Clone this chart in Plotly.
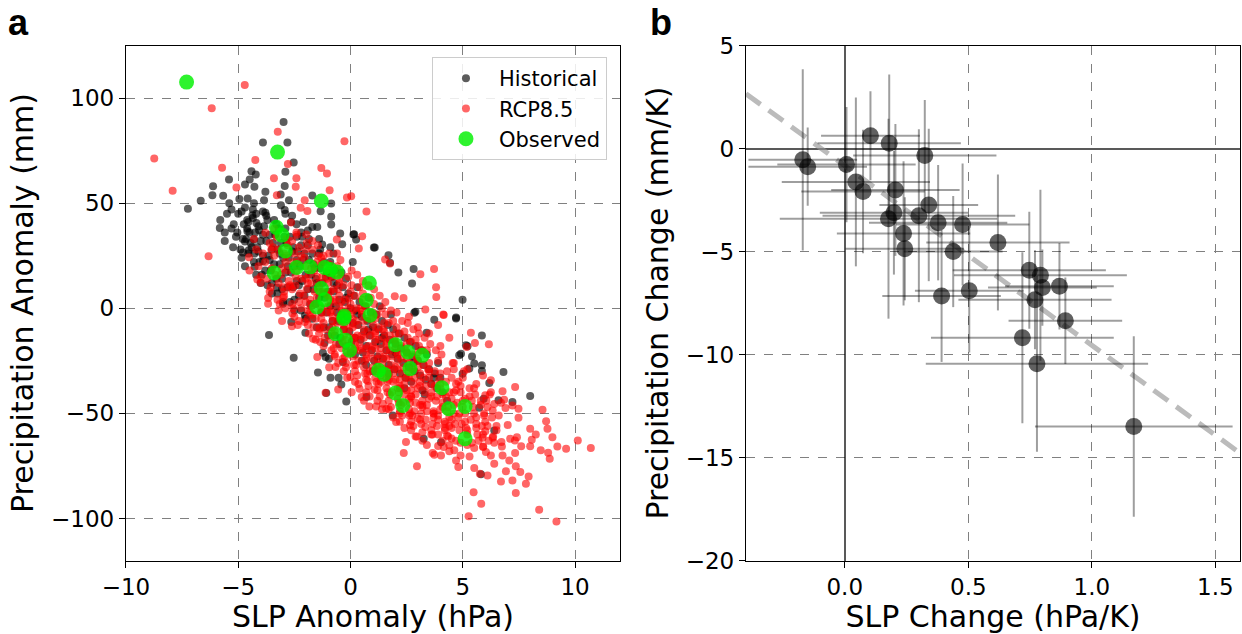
import plotly.graph_objects as go

# ---------------- Panel a data ----------------
hist_edge = [
    (-2.98, 88.6), (-3.9, 78.9), (-2.81, 78.9), (-2.53, 69.4), (-4.41, 65.2), (-4.22, 63.6), (-2.9, 64.9),
    (-5.41, 61.3), (-4.49, 61.3), (-4.7, 58.9), (-4.28, 57.8), (-6.12, 58.1), (-6.15, 53.8), (-5.67, 53.5),
    (-6.67, 51.1), (-7.24, 47.3), (-2.93, 58.2), (-3.79, 55.4), (-4.58, 52.2), (-3.85, 51.4), (-3.11, 54.1),
    (-2.74, 51.4), (-1.7, 53.7), (-0.86, 49.8), (-1.33, 46.2), (-0.86, 43.5), (-2.93, 46.7), (-3.79, 45.4),
    (-4.37, 44.3), (-4.55, 41.1), (-4.19, 40.6), (-5.82, 38.2), (-5.04, 36.0), (-4.59, 36.7), (-4.07, 37.1),
    (-4.7, 31.8), (-4.3, 32.7), (-5.23, 29.0), (-4.79, 26.5), (-4.28, 26.0), (-3.9, 22.4), (-4.27, 19.7),
    (-3.28, 9.9), (-2.16, 34.0), (-1.7, 38.7), (-1.48, 38.7), (-0.86, 39.8), (-0.46, 35.6), (0.16, 35.2),
    (0.25, 32.7), (1.08, 28.9), (-0.76, 26.0), (-0.37, 30.5), (-1.26, 30.3), (-4.53, 27.6),
    (0.13, 35.1), (1.04, 28.9), (1.69, 25.2), (1.76, 21.6), (2.13, 17.0), (2.81, 18.7), (2.74, 11.8),
    (4.99, 4.1), (4.7, -4.4), (2.89, -1.7),
    (-3.63, -12.7), (-2.53, -23.5), (-1.45, -30.6), (-0.89, -33.0), (-0.53, -33.0), (-0.41, -36.3),
    (-0.19, -44.3), (-2.64, -6.5), (-2.03, -3.5), (-2.01, -11.7), (-1.23, -21.1), (-0.96, -24.0),
    (-1.16, -16.5), (-0.34, -25.5), (0.71, -42.2), (-3.01, 2.2), (-1.08, -40.3), (-1.11, -23.2),
    (4.7, -4.9), (5.85, -12.9), (5.41, -22.9), (5.51, -26.3), (5.85, -27.1), (5.85, -29.8), (6.81, -30.3),
    (8.0, -41.7), (7.21, -44.6), (6.59, -43.8), (6.4, -58.1), (5.81, -79.0), (4.03, -63.7), (3.26, -62.1),
    (1.88, -51.0), (2.84, -2.1), (3.73, -5.4), (4.92, -21.6), (5.93, -43.0), (3.39, -11.7), (5.14, -17.6),
    (5.21, -18.1), (6.18, -35.6), (5.73, -47.3), (5.29, -28.7), (4.99, -31.1), (4.84, -22.4),
]
hist_core = [
    (-5.2, 40), (-4.8, 33), (-5.0, 45), (-4.9, 28),
    (-4.5, 36), (-4.4, 29), (-4.6, 42), (-4.3, 22), (-4.7, 48),
    (-4.0, 32), (-3.9, 25), (-4.1, 39), (-3.8, 18), (-4.2, 45), (-4.0, 12),
    (-3.5, 28), (-3.4, 21), (-3.6, 35), (-3.3, 14), (-3.7, 42), (-3.5, 7),
    (-3.0, 24), (-2.9, 17), (-3.1, 31), (-2.8, 10), (-3.2, 38), (-3.0, 3), (-2.9, 45),
    (-2.5, 20), (-2.4, 13), (-2.6, 27), (-2.3, 6), (-2.7, 34), (-2.5, -1), (-2.4, 40),
    (-2.0, 16), (-1.9, 9), (-2.1, 23), (-1.8, 2), (-2.2, 30), (-2.0, -5), (-1.9, 37),
    (-1.5, 12), (-1.4, 5), (-1.6, 19), (-1.3, -2), (-1.7, 26), (-1.5, -9), (-1.4, 33),
    (-1.0, 8), (-0.9, 1), (-1.1, 15), (-0.8, -6), (-1.2, 22), (-1.0, -13), (-0.9, 29),
    (-0.5, 4), (-0.4, -3), (-0.6, 11), (-0.3, -10), (-0.7, 18), (-0.5, -17),
    (0.0, 0), (0.1, -7), (-0.1, 7), (0.2, -14), (-0.2, 14), (0.0, -21), (0.1, 22),
    (0.5, -4), (0.6, -11), (0.4, 3), (0.7, -18), (0.3, 10), (0.5, -25),
    (1.0, -9), (1.1, -16), (0.9, -2), (1.2, -23), (0.8, 5), (1.0, -30),
    (1.5, -13), (1.6, -20), (1.4, -6), (1.7, -27), (1.3, 1),
    (2.0, -17), (2.1, -24), (1.9, -10), (2.2, -31), (1.8, -3),
    (2.5, -21), (2.6, -28), (2.4, -14), (2.7, -35),
    (3.0, -25), (3.1, -32), (2.9, -18), (3.2, -39),
    (3.5, -29), (3.6, -36), (3.4, -22),
    (4.0, -33), (4.1, -40), (3.9, -26),
    (-5.5, 45), (-5.3, 38), (-5.6, 32), (-5.4, 50),
    (-4.75, 40), (-4.65, 33), (-4.85, 46), (-4.55, 26), (-4.7, 20),
    (-4.25, 36), (-4.15, 29), (-4.35, 43), (-4.05, 22), (-4.3, 50), (-4.2, 16),
    (-3.75, 32), (-3.65, 25), (-3.85, 39), (-3.55, 18), (-3.9, 46), (-3.7, 11),
    (-3.25, 28), (-3.15, 21), (-3.35, 35), (-3.05, 14), (-3.4, 42), (-3.25, 7), (-3.1, 49),
    (-2.75, 24), (-2.65, 17), (-2.85, 31), (-2.55, 10), (-2.9, 38), (-2.7, 3), (-2.6, 44),
    (-2.25, 20), (-2.15, 13), (-2.35, 27), (-2.05, 6), (-2.4, 34), (-2.2, -1), (-2.1, 41),
    (-1.75, 16), (-1.65, 9), (-1.85, 23), (-1.55, 2), (-1.9, 30), (-1.7, -5),
    (-1.25, 12), (-1.15, 5), (-1.35, 19), (-1.05, -2), (-1.4, 26), (-1.2, -9),
    (-0.75, 8), (-0.65, 1), (-0.85, 15), (-0.55, -6), (-0.9, 22), (-0.7, -13),
    (-0.25, 3), (-0.15, -4), (-0.35, 10), (-0.05, -11), (-0.4, 17), (-0.2, -18),
    (0.25, -1), (0.35, -8), (0.15, 6), (0.45, -15), (0.2, -22),
    (0.75, -6), (0.85, -13), (0.65, 1), (0.95, -20), (0.7, -27),
    (1.25, -10), (1.35, -17), (1.15, -3), (1.45, -24),
    (1.75, -15), (1.85, -22), (1.65, -8), (1.95, -29),
    (2.25, -19), (2.35, -26), (2.15, -12), (2.45, -33),
    (2.75, -23), (2.85, -30), (2.65, -16),
    (3.25, -27), (3.35, -34), (3.15, -20),
    (3.75, -31), (3.85, -38),
    (-5.8, 42), (-5.6, 36), (-5.3, 47), (-5.1, 34), (-4.95, 52), (-4.6, 38), (-4.45, 31), (-4.85, 24),
    (-4.1, 27), (-4.35, 47), (-3.9, 35), (-3.75, 44), (-3.6, 23), (-3.95, 16), (-3.45, 31), (-3.3, 40),
    (-3.15, 26), (-3.5, 12), (-2.95, 34), (-2.8, 20), (-2.65, 41), (-3.05, 9), (-2.55, 29), (-2.4, 23),
    (-2.2, 36), (-2.5, 4), (-2.05, 26), (-1.85, 33), (-1.65, 21), (-2.3, 11), (-1.55, 14), (-1.35, 28),
    (-1.2, 7), (-1.05, 17), (-0.95, -9), (-0.75, 12), (-0.6, -2), (-0.45, -14), (-0.2, 5), (0.05, -16),
    (0.3, -3), (0.55, -21), (0.8, -10), (1.05, -25), (1.4, -14), (1.7, -31), (2.0, -21), (2.4, -38),
    (2.8, -26), (3.3, -41), (3.7, -33), (4.3, -44),
]
rcp_edge = [
    (-4.71, 106.2), (-6.18, 95.1), (-8.74, 71.3), (-7.92, 55.9), (-6.32, 24.8), (-5.72, 66.8), (-5.08, 57.5),
    (-4.24, 70.5), (-3.24, 84.0), (-0.27, 79.5), (-3.41, 61.8), (-2.79, 68.6), (-2.41, 61.8), (-2.44, 57.8),
    (-1.3, 66.7), (-1.05, 64.1), (-0.93, 56.2), (-0.16, 52.7), (0.03, 53.3), (0.71, 46.0), (-3.28, 53.8),
    (-2.22, 47.8), (-1.92, 46.3), (-2.65, 40.8), (-2.41, 36.0), (-1.97, 35.1), (-0.61, 32.7), (0.52, 34.3),
    (0.37, 28.4), (-4.52, 24.3), (-4.15, 13.7), (-3.67, 4.9), (-4.0, 12.2), (-3.79, 35.9), (-3.53, 27.9),
    (-2.96, 5.7), (-2.68, 10.2), (-2.04, 51.4),
    (3.72, 18.7), (3.11, 16.2), (3.81, 10.0), (3.82, 5.4), (1.54, 23.2), (1.76, 21.3), (2.36, 4.9),
    (1.97, 5.7), (4.13, -3.0),
    (-2.59, -2.5), (-2.61, -8.6), (-2.04, -6.5), (-1.67, -14.5), (-1.48, -23.2), (-1.11, -40.2),
    (-0.55, -38.6), (-0.67, -27.9), (-0.01, -32.7), (0.4, -38.3), (0.84, -46.7), (1.14, -46.7),
    (0.5, -42.2), (0.77, -34.6), (1.07, -38.7), (-1.38, -9.7), (-3.67, 2.2),
    (10.7, -66.5), (10.12, -62.9), (9.6, -66.8), (9.17, -101.4), (8.4, -95.9), (8.87, -71.6), (8.8, -68.7),
    (9.21, -65.7), (8.99, -61.3), (8.47, -67.6), (8.77, -57.3), (8.71, -53.7), (8.55, -48.3), (8.0, -57.3),
    (8.25, -60.0), (8.07, -62.5), (8.0, -65.6), (7.81, -83.5), (7.93, -80.0), (7.56, -77.9), (7.21, -81.9),
    (6.92, -77.5), (7.36, -75.1), (7.07, -72.4), (7.33, -68.9), (7.6, -65.6), (7.32, -62.9), (7.41, -61.3),
    (6.74, -65.7), (6.7, -82.4), (7.36, -87.9), (5.82, -93.0), (5.26, -98.9), (6.1, -79.5), (5.76, -78.7),
    (5.51, -76.0), (6.77, -70.0), (6.25, -70.0), (6.03, -68.4), (5.91, -65.7), (5.51, -66.5), (6.33, -61.6),
    (6.72, -63.6), (7.11, -62.1), (7.48, -52.1), (7.21, -46.2), (7.33, -37.5), (6.77, -39.5), (6.25, -34.3),
    (6.16, -17.1), (5.54, -16.5), (5.36, -11.6), (5.17, -18.4), (6.33, -48.6), (4.7, -72.4), (4.03, -70.0),
    (3.66, -68.9), (2.96, -75.2), (2.37, -68.9), (2.47, -63.6), (2.95, -61.0), (2.65, -55.7), (4.4, -65.2),
    (4.62, -67.6), (5.88, -61.6), (5.48, -87.5), (4.15, -3.2), (3.33, -0.6),
    (1.59, -47.8), (2.03, -54.1), (3.33, -56.5), (3.73, -69.7), (2.62, -51.0), (2.18, -50.2), (1.44, -45.4),
    (3.0, -52.4), (3.6, -60.0), (4.3, -60.5), (4.9, -64.0), (5.2, -58.0), (5.6, -55.0), (6.0, -58.5),
    (5.3, -70.5), (4.5, -57.0), (3.9, -65.5), (4.8, -75.5), (6.4, -74.0), (6.5, -56.0), (7.0, -55.5),
    (5.95, -51.0), (6.9, -47.5), (6.84, -43.5), (7.48, -47.8), (6.0, -41.4), (5.6, -36.0), (5.9, -32.0),
    (5.2, -29.0), (4.6, -26.0), (4.4, -14.0), (3.9, -8.0), (3.5, -12.0), (4.0, -18.0), (3.0, -9.0),
    (2.6, -4.0), (6.4, -45.5), (5.8, -46.0), (5.3, -42.0), (4.9, -37.0), (4.5, -33.0),
]
rcp_core = [
    (-4.2, 28), (-3.8, 22), (-4.5, 18), (-3.6, 31), (-4.0, 15),
    (-3.4, 25), (-3.2, 12), (-3.6, 8), (-3.3, 34), (-3.5, 19),
    (-2.9, 22), (-3.1, 16), (-2.8, 30), (-3.0, 5), (-2.7, 11), (-3.2, -1),
    (-2.5, 26), (-2.4, 18), (-2.6, 9), (-2.3, 3), (-2.5, -4), (-2.2, 14), (-2.6, 32),
    (-2.0, 20), (-1.9, 12), (-2.1, 6), (-1.8, -2), (-2.0, 28), (-1.9, -8), (-2.2, 0),
    (-1.5, 15), (-1.4, 8), (-1.6, 2), (-1.3, -5), (-1.5, 22), (-1.4, -12), (-1.7, 28), (-1.2, -18),
    (-1.0, 12), (-0.9, 4), (-1.1, -2), (-0.8, -9), (-1.0, 18), (-0.9, -15), (-1.2, 25), (-0.7, -22), (-1.1, 7),
    (-0.5, 6), (-0.4, -1), (-0.6, -7), (-0.3, -13), (-0.5, 12), (-0.4, -19), (-0.6, 20), (-0.2, -26), (-0.5, 1),
    (0.0, 2), (0.1, -5), (-0.1, -11), (0.2, -17), (0.0, 8), (0.1, -23), (-0.1, 15), (0.2, -30), (0.0, -3), (0.1, -14),
    (0.5, -3), (0.6, -10), (0.4, -16), (0.7, -22), (0.5, 4), (0.6, -28), (0.4, 10), (0.7, -34), (0.5, -19), (0.3, -8),
    (1.0, -8), (1.1, -15), (0.9, -21), (1.2, -27), (1.0, -2), (1.1, -33), (0.9, 5), (1.2, -39), (1.0, -24), (1.1, -12),
    (1.5, -14), (1.6, -20), (1.4, -26), (1.7, -32), (1.5, -7), (1.6, -38), (1.4, 0), (1.7, -44), (1.5, -29), (1.6, -17),
    (2.0, -19), (2.1, -25), (1.9, -31), (2.2, -37), (2.0, -12), (2.1, -43), (1.9, -6), (2.2, -49), (2.0, -34), (2.1, -22),
    (2.5, -24), (2.6, -30), (2.4, -36), (2.7, -42), (2.5, -17), (2.6, -48), (2.4, -11), (2.7, -54), (2.5, -39),
    (3.0, -28), (3.1, -35), (2.9, -41), (3.2, -47), (3.0, -21), (3.1, -53), (2.9, -15), (3.2, -59),
    (3.5, -33), (3.6, -40), (3.4, -46), (3.7, -52), (3.5, -26), (3.6, -58), (3.4, -20),
    (4.0, -38), (4.1, -45), (3.9, -51), (4.2, -57), (4.0, -31), (4.1, -63), (3.9, -25),
    (4.5, -43), (4.6, -50), (4.4, -56), (4.7, -36), (4.5, -62), (4.6, -29),
    (5.0, -47), (5.1, -54), (4.9, -40), (5.2, -60), (5.0, -33),
    (5.5, -50), (5.6, -57), (5.4, -44), (5.7, -63), (5.5, -38),
    (6.0, -54), (6.1, -47), (5.9, -60), (6.2, -41),
    (6.5, -58), (6.6, -51), (6.4, -64), (6.7, -45),
    (-1.75, 12), (-1.8, 4), (-1.7, -3), (-1.75, 19), (-1.65, -9),
    (-1.25, 8), (-1.3, 0), (-1.2, -7), (-1.25, 15), (-1.15, -14), (-1.3, 21),
    (-0.75, 3), (-0.8, -4), (-0.7, -11), (-0.75, 9), (-0.65, -17), (-0.8, 15), (-0.7, -23),
    (-0.25, -2), (-0.3, -8), (-0.2, -15), (-0.25, 4), (-0.15, -21), (-0.3, 11), (-0.2, -28),
    (0.25, -6), (0.3, -13), (0.2, -19), (0.25, 0), (0.35, -25), (0.2, 6), (0.3, -32),
    (0.75, -11), (0.8, -18), (0.7, -24), (0.75, -5), (0.85, -30), (0.7, 1), (0.8, -37),
    (1.25, -15), (1.3, -22), (1.2, -29), (1.25, -9), (1.35, -35), (1.2, -3), (1.3, -42),
    (1.75, -20), (1.8, -27), (1.7, -34), (1.75, -13), (1.85, -40), (1.7, -7), (1.8, -47),
    (2.25, -24), (2.3, -31), (2.2, -38), (2.25, -18), (2.35, -45), (2.2, -12), (2.3, -51),
    (2.75, -29), (2.8, -36), (2.7, -42), (2.75, -22), (2.85, -49), (2.7, -16), (2.8, -56),
    (3.25, -33), (3.3, -40), (3.2, -46), (3.25, -27), (3.35, -53), (3.2, -20),
    (3.75, -37), (3.8, -44), (3.7, -50), (3.75, -30), (3.85, -56),
    (4.25, -42), (4.3, -49), (4.2, -55), (4.25, -35), (4.35, -61),
    (4.75, -45), (4.8, -52), (4.7, -39), (4.85, -58),
    (-2.85, 25), (-3.05, 19), (-2.75, 13), (-2.95, 8), (-3.15, 2),
    (-2.35, 22), (-2.45, 15), (-2.25, 7), (-2.55, 0), (-2.3, 29),
    (-1.85, 16), (-1.95, 9), (-1.75, 1), (-2.05, 24), (-1.9, -5),
    (-1.4, 12), (-1.5, 5), (-1.3, -2), (-1.6, 18), (-1.35, -9), (-1.45, 25),
    (-0.9, 8), (-1.0, 1), (-0.8, -6), (-1.05, 14), (-0.85, -12), (-0.95, 21), (-0.75, -19),
    (-0.4, 3), (-0.5, -4), (-0.3, -10), (-0.55, 9), (-0.35, -16), (-0.45, 16), (-0.25, -23),
    (0.1, -1), (0.0, -8), (0.2, -14), (-0.05, 5), (0.15, -20), (0.05, 11), (0.25, -27),
    (0.6, -6), (0.5, -13), (0.7, -19), (0.45, 0), (0.65, -25), (0.55, 7), (0.75, -31),
    (1.1, -11), (1.0, -18), (1.2, -24), (0.95, -5), (1.15, -30), (1.05, 2), (1.25, -36),
    (1.6, -16), (1.5, -23), (1.7, -29), (1.45, -10), (1.65, -35), (1.55, -3), (1.75, -41),
    (2.1, -21), (2.0, -28), (2.2, -34), (1.95, -15), (2.15, -40), (2.05, -9), (2.25, -46),
    (2.6, -26), (2.5, -33), (2.7, -39), (2.45, -20), (2.65, -45), (2.55, -14), (2.75, -51),
    (3.1, -31), (3.0, -38), (3.2, -44), (2.95, -24), (3.15, -50), (3.05, -18),
    (3.6, -36), (3.5, -43), (3.7, -49), (3.45, -29), (3.65, -55),
    (4.1, -41), (4.0, -48), (4.2, -54), (3.95, -34),
    (4.6, -46), (4.5, -53), (4.4, -40),
    (5.1, -50), (5.0, -44),
    (-3.9, 26), (-4.1, 20), (-3.7, 14), (-4.3, 33),
    (-3.45, 29), (-3.35, 16), (-3.55, 10), (-3.25, 4), (-3.4, 38),
    (-2.85, 33), (-2.95, 26), (-2.9, 0), (-3.05, -6),
    (-2.4, 35), (-2.45, 11), (-2.35, -8), (-2.55, 22),
    (-1.95, 31), (-1.85, -12), (-2.0, 14), (-1.9, -1),
    (-1.45, 30), (-1.35, -16), (-1.4, 10), (-1.55, -5),
    (-0.95, 26), (-0.85, -20), (-0.9, -2), (-1.0, 6),
    (-0.45, 23), (-0.35, -24), (-0.4, -6), (-0.5, 14), (-0.3, -30),
    (0.05, 18), (0.15, -27), (0.1, -9), (0.0, -18), (0.2, -35), (0.05, -40),
    (0.55, 13), (0.65, -31), (0.6, -14), (0.5, -1), (0.7, -40),
    (1.05, 9), (1.15, -35), (1.1, -19), (1.0, -28), (1.2, -44), (1.1, -5),
    (1.55, 3), (1.65, -40), (1.6, -24), (1.5, -11), (1.7, -48), (1.6, -33),
    (2.05, -2), (2.15, -45), (2.1, -29), (2.0, -16), (2.2, -54), (2.1, -38),
    (2.55, -7), (2.65, -50), (2.6, -33), (2.5, -21), (2.7, -58), (2.6, -43),
    (3.05, -12), (3.15, -55), (3.1, -37), (3.0, -25), (3.2, -63), (3.1, -46),
    (3.55, -17), (3.65, -60), (3.6, -42), (3.5, -30), (3.7, -50),
    (4.05, -22), (4.15, -66), (4.1, -47), (4.0, -36), (4.2, -58),
    (4.55, -26), (4.65, -55), (4.6, -40), (4.7, -63),
    (5.05, -30), (5.15, -57), (5.1, -43), (5.2, -65),
    (5.55, -41), (5.65, -60), (5.6, -52),
    (6.05, -44), (6.15, -63), (6.1, -56),
    (-3.2, 28), (-2.8, 18), (-3.0, 10), (-2.6, 2),
    (-2.2, 25), (-2.0, 3), (-2.3, -6), (-1.7, 32),
    (-1.6, 8), (-1.3, 24), (-1.1, -10), (-1.55, -15),
    (-0.8, -1), (-0.6, 26), (-0.55, -26), (-0.7, 4), (-0.95, -28),
    (-0.15, -33), (-0.1, 0), (0.3, 16), (0.35, -36), (0.4, -20),
    (0.9, -13), (0.85, -42), (0.8, 11), (0.6, -44),
    (1.35, -19), (1.4, -48), (1.3, 6), (1.35, -32),
    (1.85, -23), (1.9, -52), (1.8, -1), (1.9, -35),
    (2.35, -28), (2.4, -57), (2.3, -6), (2.4, -41),
    (2.85, -33), (2.9, -61), (2.8, -10), (2.9, -45),
    (3.35, -37), (3.4, -65), (3.3, -14), (3.4, -49),
    (3.85, -42), (3.9, -60), (3.8, -20), (3.9, -53),
    (4.35, -47), (4.4, -68), (4.3, -30), (4.4, -52),
    (4.85, -50), (4.9, -70), (4.8, -35), (4.95, -55),
    (5.35, -53), (5.4, -64), (5.3, -38), (5.45, -47),
    (5.85, -56), (5.9, -66), (5.8, -44), (5.95, -50),
    (6.3, -52), (6.35, -61), (6.25, -40),
]
observed = [
    (-7.3, 107.6), (-3.25, 74.3), (-1.3, 51.0), (-3.3, 38.5), (-3.05, 34.8), (-2.9, 27.3), (-3.4, 16.8),
    (-2.4, 19.4), (-1.8, 19.7), (-1.15, 19.4), (-0.9, 18.5), (-0.6, 17.3), (-1.3, 9.4), (-1.15, 4.0),
    (-1.5, 0.6), (-0.28, -3.8), (0.84, 12.0), (0.7, 3.8), (0.87, -3.3), (-0.3, -4.9), (-0.67, -12.1),
    (-0.22, -15.2), (-0.04, -20.0), (2.0, -17.3), (2.55, -20.8), (3.2, -22.4), (2.65, -28.7), (1.25, -29.5),
    (1.5, -31.4), (2.0, -40.3), (4.07, -37.8), (4.37, -47.8), (5.1, -46.7), (5.1, -62.1), (2.33, -46.2),
]

# ---------------- Panel b data ----------------
slp_change = [-0.17, -0.15, 0.007, 0.045, 0.074, 0.104, 0.18, 0.205, 0.199, 0.177, 0.30, 0.34, 0.324, 0.378,
              0.477, 0.238, 0.243, 0.439, 0.62, 0.747, 0.792, 0.80, 0.869, 0.77, 0.504, 0.392, 0.893, 0.719,
              0.778, 1.17]
pr_change = [-0.55, -0.88, -0.78, -1.62, -2.09, 0.62, 0.26, -2.01, -3.12, -3.41, -3.26, -2.74, -0.34, -3.6,
             -3.69, -4.12, -4.87, -5.0, -4.56, -5.91, -6.15, -6.75, -6.69, -7.34, -6.9, -7.16, -8.36, -9.19,
             -10.45, -13.49]
slp_err = [0.22, 0.24, 0.28, 0.30, 0.25, 0.20, 0.29, 0.26, 0.30, 0.44, 0.39, 0.20, 0.29, 0.28,
           0.27, 0.27, 0.24, 0.20, 0.29, 0.31, 0.35, 0.22, 0.22, 0.31, 0.22, 0.24, 0.23, 0.37,
           0.45, 0.40]
pr_err = [4.4, 1.9, 2.8, 4.1, 3.0, 2.16, 3.33, 3.2, 3.0, 4.85, 4.2, 3.7, 2.7, 2.8,
          2.96, 3.5, 2.5, 2.7, 3.3, 2.84, 4.15, 1.85, 2.1, 2.4, 3.0, 3.2, 2.1, 4.15,
          4.27, 4.38]
fit_slope = -8.72
fit_intercept = -0.83

X_A = [-10, 12]
Y_A = [-120, 125]
X_B = [-0.4, 1.6]
Y_B = [-20, 5]

hist = hist_edge + hist_core
rcp = rcp_edge + rcp_core

fig = go.Figure()
fig.add_trace(go.Scatter(x=[p[0] for p in hist], y=[p[1] for p in hist], mode="markers", name="Historical",
                         marker=dict(size=8, color="rgba(0,0,0,0.64)", line=dict(width=0)),
                         xaxis="x", yaxis="y"))
fig.add_trace(go.Scatter(x=[p[0] for p in rcp], y=[p[1] for p in rcp], mode="markers", name="RCP8.5",
                         marker=dict(size=8, color="rgba(255,0,0,0.6)", line=dict(width=0)),
                         xaxis="x", yaxis="y"))
fig.add_trace(go.Scatter(x=[p[0] for p in observed], y=[p[1] for p in observed], mode="markers", name="Observed",
                         marker=dict(size=15, color="rgba(0,240,0,0.82)", line=dict(width=0)),
                         xaxis="x", yaxis="y"))

fig.add_trace(go.Scatter(x=X_B, y=[fit_intercept + fit_slope * v for v in X_B], mode="lines",
                         line=dict(color="rgba(150,150,150,0.65)", width=5, dash="18px,10px"),
                         showlegend=False, xaxis="x2", yaxis="y2"))
fig.add_trace(go.Scatter(x=slp_change, y=pr_change, mode="markers", showlegend=False,
                         marker=dict(size=17, color="rgba(0,0,0,0.62)", line=dict(width=0)),
                         error_x=dict(type="data", array=slp_err, color="rgba(0,0,0,0.38)", thickness=2, width=0),
                         error_y=dict(type="data", array=pr_err, color="rgba(0,0,0,0.38)", thickness=2, width=0),
                         xaxis="x2", yaxis="y2"))

tickfont = dict(family="DejaVu Sans", size=23, color="black")
titlefont = dict(family="DejaVu Sans", size=30, color="black")
common = dict(showline=True, mirror=True, linecolor="black", linewidth=1.3, ticks="outside", ticklen=6,
              tickwidth=1.3, tickcolor="black", showgrid=True, gridcolor="#808080", griddash="dash",
              gridwidth=1, tickfont=tickfont, automargin=False)

ydom = [0.1159, 0.9282]
fig.update_layout(
    width=1242, height=634, margin=dict(l=0, r=0, t=0, b=0),
    plot_bgcolor="white", paper_bgcolor="white",
    xaxis=dict(domain=[0.1014, 0.4992], range=X_A, tickvals=[-10, -5, 0, 5, 10], zeroline=False,
               title=dict(text="SLP Anomaly (hPa)", font=titlefont, standoff=5), anchor="y", **common),
    yaxis=dict(domain=ydom, range=Y_A, tickvals=[-100, -50, 0, 50, 100], zeroline=False,
               title=dict(text="Precipitation Anomaly (mm)", font=titlefont, standoff=8), anchor="x", **common),
    xaxis2=dict(domain=[0.6006, 0.9984], range=X_B, tickvals=[0, 0.5, 1.0, 1.5], tickformat=".1f",
                zeroline=True, zerolinecolor="rgba(0,0,0,0.65)", zerolinewidth=2,
                title=dict(text="SLP Change (hPa/K)", font=titlefont, standoff=5), anchor="y2", **common),
    yaxis2=dict(domain=ydom, range=Y_B, tickvals=[-20, -15, -10, -5, 0, 5], zeroline=True,
                zerolinecolor="rgba(0,0,0,0.65)", zerolinewidth=2,
                title=dict(text="Precipitation Change (mm/K)", font=titlefont, standoff=8), anchor="x2", **common),
    legend=dict(x=0.3478, y=0.910, xanchor="left", yanchor="top", bgcolor="rgba(255,255,255,0.85)",
                bordercolor="#cccccc", borderwidth=1, itemwidth=56,
                font=dict(family="DejaVu Sans", size=21, color="black")),
    annotations=[
        dict(text="<b>a</b>", x=0.005, y=1.0, xref="paper", yref="paper", xanchor="left", yanchor="top",
             showarrow=False, font=dict(family="Liberation Sans", size=36, color="black")),
        dict(text="<b>b</b>", x=0.522, y=1.0, xref="paper", yref="paper", xanchor="left", yanchor="top",
             showarrow=False, font=dict(family="Liberation Sans", size=36, color="black")),
    ],
)

fig.write_html("out.html")
